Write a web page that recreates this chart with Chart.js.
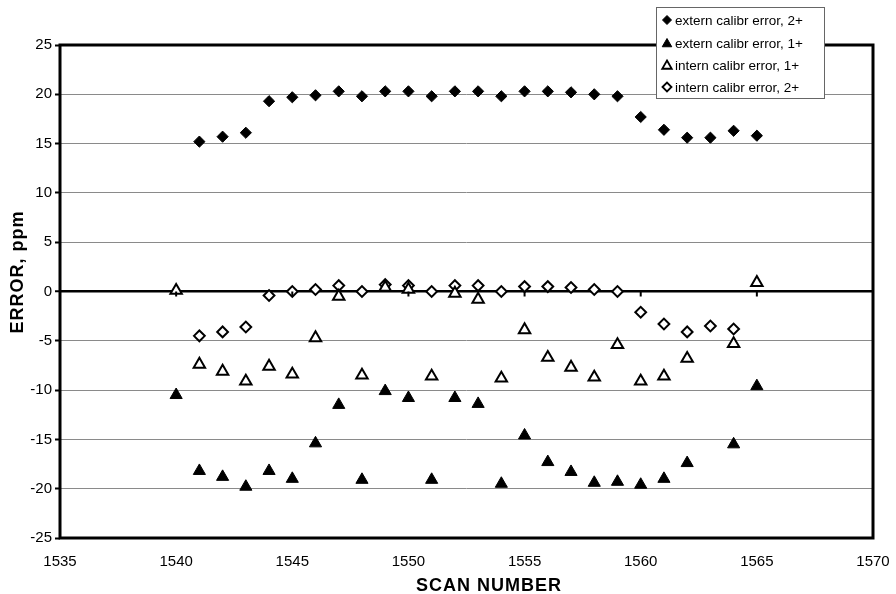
<!DOCTYPE html>
<html>
<head>
<meta charset="utf-8">
<title>Scan error</title>
<script src="https://cdn.jsdelivr.net/npm/chart.js@4.4.0/dist/chart.umd.min.js"></script>
<style>
  html, body { margin: 0; padding: 0; background: #fff; }
  #wrap { width: 896px; height: 594px; }
</style>
</head>
<body>
<div id="wrap"><canvas id="chart-scan" width="896" height="594"></canvas></div>
<script>
const FONT = '"Liberation Sans", Arial, Helvetica, sans-serif';

// axis ticks
const scanTicks = [1535, 1540, 1545, 1550, 1555, 1560, 1565, 1570];
const errorTicks = [-25, -20, -15, -10, -5, 0, 5, 10, 15, 20, 25];

const seriesLabels = [
  'extern calibr error, 2+',
  'extern calibr error, 1+',
  'intern calibr error, 1+',
  'intern calibr error, 2+'
];

// extern calibr, 2+
const extern2Scans = [1541, 1542, 1543, 1544, 1545, 1546, 1547, 1548, 1549, 1550, 1551, 1552, 1553,
  1554, 1555, 1556, 1557, 1558, 1559, 1560, 1561, 1562, 1563, 1564, 1565];
const extern2Error = [15.2, 15.7, 16.1, 19.3, 19.7, 19.9, 20.3, 19.8, 20.3, 20.3, 19.8, 20.3, 20.3,
  19.8, 20.3, 20.3, 20.2, 20.0, 19.8, 17.7, 16.4, 15.6, 15.6, 16.3, 15.8];

// extern calibr, 1+
const extern1Scans = [1540, 1541, 1542, 1543, 1544, 1545, 1546, 1547, 1548, 1549, 1550, 1551, 1552,
  1553, 1554, 1555, 1556, 1557, 1558, 1559, 1560, 1561, 1562, 1564, 1565];
const extern1Error = [-10.5, -18.2, -18.8, -19.8, -18.2, -19.0, -15.4, -11.5, -19.1, -10.1, -10.8, -19.1, -10.8,
  -11.4, -19.5, -14.6, -17.3, -18.3, -19.4, -19.3, -19.6, -19.0, -17.4, -15.5, -9.6];

// intern calibr, 1+
const intern1Scans = [1540, 1541, 1542, 1543, 1544, 1545, 1546, 1547, 1548, 1549, 1550, 1551, 1552,
  1553, 1554, 1555, 1556, 1557, 1558, 1559, 1560, 1561, 1562, 1564, 1565];
const intern1Error = [0.1, -7.4, -8.1, -9.1, -7.6, -8.4, -4.7, -0.5, -8.5, 0.4, 0.2, -8.6, -0.2,
  -0.8, -8.8, -3.9, -6.7, -7.7, -8.7, -5.4, -9.1, -8.6, -6.8, -5.3, 0.9];

// intern calibr, 2+
const intern2Scans = [1541, 1542, 1543, 1544, 1545, 1546, 1547, 1548, 1549, 1550, 1551, 1552,
  1553, 1554, 1555, 1556, 1557, 1558, 1559, 1560, 1561, 1562, 1563, 1564];
const intern2Error = [-4.5, -4.1, -3.6, -0.4, 0.0, 0.2, 0.6, 0.0, 0.7, 0.6, 0.0, 0.6,
  0.6, 0.0, 0.5, 0.5, 0.4, 0.2, 0.0, -2.1, -3.3, -4.1, -3.5, -3.8];

function toPoints(xs, ys) {
  return xs.map((x, i) => ({ x: x, y: ys[i] }));
}

const markerStyles = [
  { pointStyle: 'rectRot', radius: 5.6, fill: '#000', borderWidth: 1 },
  { pointStyle: 'triangle', radius: 7, fill: '#000', borderWidth: 1 },
  { pointStyle: 'triangle', radius: 6.6, fill: '#fff', borderWidth: 2 },
  { pointStyle: 'rectRot', radius: 5.4, fill: '#fff', borderWidth: 2 }
];

const seriesData = [
  toPoints(extern2Scans, extern2Error),
  toPoints(extern1Scans, extern1Error),
  toPoints(intern1Scans, intern1Error),
  toPoints(intern2Scans, intern2Error)
];

const datasets = seriesData.map((pts, i) => ({
  label: seriesLabels[i],
  data: pts,
  pointStyle: markerStyles[i].pointStyle,
  pointRadius: markerStyles[i].radius,
  pointBackgroundColor: markerStyles[i].fill,
  pointBorderColor: '#000',
  pointBorderWidth: markerStyles[i].borderWidth,
  showLine: false
}));

// border, zero-line ticks, axis titles and the boxed legend
const framePlugin = {
  id: 'frame',
  afterDraw(chart) {
    const { ctx, chartArea: a, scales: { x, y } } = chart;
    ctx.save();

    ctx.strokeStyle = '#000';
    ctx.lineWidth = 3;
    ctx.strokeRect(a.left, a.top, a.right - a.left, a.bottom - a.top);

    const y0 = y.getPixelForValue(0);
    ctx.lineWidth = 2;
    scanTicks.forEach(v => {
      if (v <= x.min || v >= x.max) return;
      const px = x.getPixelForValue(v);
      ctx.beginPath();
      ctx.moveTo(px, y0);
      ctx.lineTo(px, y0 + 5);
      ctx.stroke();
    });

    ctx.fillStyle = '#000';
    ctx.font = 'bold 18px ' + FONT;
    ctx.letterSpacing = '1px';
    ctx.textAlign = 'center';
    ctx.textBaseline = 'middle';
    ctx.fillText('SCAN NUMBER', 489, 586);

    ctx.save();
    ctx.translate(18, 272);
    ctx.rotate(-Math.PI / 2);
    ctx.fillText('ERROR, ppm', 0, 0);
    ctx.restore();
    ctx.letterSpacing = '0px';

    // legend
    const box = { left: 656, top: 7, width: 168, height: 91 };
    ctx.fillStyle = '#fff';
    ctx.fillRect(box.left, box.top, box.width, box.height);
    ctx.strokeStyle = '#666';
    ctx.lineWidth = 1;
    ctx.strokeRect(box.left + 0.5, box.top + 0.5, box.width, box.height);

    const rowY = [20, 43, 65, 87];
    ctx.font = '13.5px ' + FONT;
    ctx.textAlign = 'left';
    seriesLabels.forEach((label, i) => {
      const m = markerStyles[i];
      ctx.fillStyle = m.fill;
      ctx.strokeStyle = '#000';
      ctx.lineWidth = m.borderWidth === 2 ? 1.8 : 1;
      Chart.helpers.drawPoint(ctx, {
        pointStyle: m.pointStyle,
        radius: m.pointStyle === 'triangle' ? 5.5 : 4.5,
        rotation: 0,
        borderWidth: ctx.lineWidth
      }, 667, rowY[i] + (m.pointStyle === 'triangle' ? 1 : 0));
      ctx.fillStyle = '#000';
      ctx.fillText(label, 675, rowY[i] + 1);
    });

    ctx.restore();
  }
};

new Chart(document.getElementById('chart-scan'), {
  type: 'scatter',
  data: { datasets: datasets },
  options: {
    responsive: false,
    animation: false,
    devicePixelRatio: 1,
    layout: { padding: { left: 0, right: 23, top: 45, bottom: 0 } },
    plugins: {
      legend: { display: false },
      tooltip: { enabled: false }
    },
    scales: {
      x: {
        type: 'linear',
        min: 1535,
        max: 1570,
        afterBuildTicks: scale => { scale.ticks = scanTicks.map(v => ({ value: v })); },
        afterFit: scale => {
          scale.height = 56;
          scale.paddingLeft = 0;
          scale.paddingRight = 0;
        },
        grid: { display: false, drawTicks: false },
        border: { display: false },
        ticks: {
          padding: 15,
          color: '#000',
          font: { family: FONT, size: 15 },
          maxRotation: 0,
          callback: v => String(v)
        }
      },
      y: {
        min: -25,
        max: 25,
        afterBuildTicks: scale => { scale.ticks = errorTicks.map(v => ({ value: v })); },
        afterFit: scale => { scale.width = 60; },
        border: { display: false },
        grid: {
          color: c => (c.tick && c.tick.value === 0 ? '#000' : '#8a8a8a'),
          lineWidth: c => (c.tick && c.tick.value === 0 ? 2.5 : 1),
          tickColor: '#000',
          tickLength: 5,
          tickWidth: 2
        },
        ticks: {
          padding: 3,
          color: '#000',
          font: { family: FONT, size: 15 },
          callback: v => String(v)
        }
      }
    }
  },
  plugins: [framePlugin]
});
</script>
</body>
</html>
